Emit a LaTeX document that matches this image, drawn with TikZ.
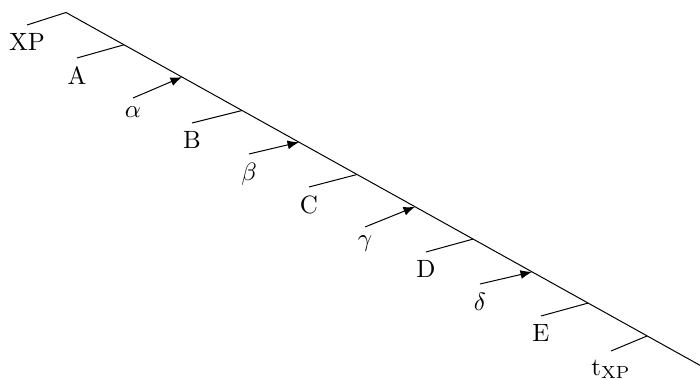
\documentclass[tikz,border=0pt]{standalone}
\usepackage{amsmath}
\usetikzlibrary{arrows.meta,positioning}

\begin{document}
\begin{tikzpicture}[x=0.4pt,y=-0.4pt,
every node/.style={anchor=north,inner sep=0.333em},
spine/.style={line width=0.4pt},
move/.style={line width=0.4pt,-{Latex[length=4.6pt,width=3.6pt]}}]
\useasboundingbox (0,0) rectangle (700,380);
% points on the spine
\coordinate (top) at (66,12.5);
\coordinate (bot) at (712,372);
\coordinate (pA) at (124,44.8);
\coordinate (pB) at (242,110.5);
\coordinate (pC) at (357,174.5);
\coordinate (pD) at (473,239.1);
\coordinate (pE) at (588,303.1);
\coordinate (pT) at (647,336);
\coordinate (qa) at (182,77.1);
\coordinate (qb) at (299,142.2);
\coordinate (qc) at (415,206.8);
\coordinate (qd) at (532,271.9);
% labels
\node (XP) at (27,25) {XP};
\node (A) at (77,58) {A};
\node (B) at (192,123) {B};
\node (C) at (309,187) {C};
\node (D) at (426,252) {D};
\node (E) at (541,316) {E};
\node (T) at (611,351) {t$_{\mathrm{XP}}$};
\node (al) at (133,98) {$\alpha$};
\node (be) at (249,154) {$\beta$};
\node (ga) at (365,227) {$\gamma$};
\node (de) at (480,284) {$\delta$};
% lines
\draw[spine] (XP.north)--(top)--(bot);
\draw[spine] (pA)--(A.north);
\draw[spine] (pB)--(B.north);
\draw[spine] (pC)--(C.north);
\draw[spine] (pD)--(D.north);
\draw[spine] (pE)--(E.north);
\draw[spine] (pT)--(T.north);
\draw[move] (al.north)--(qa);
\draw[move] (be.north)--(qb);
\draw[move] (ga.north)--(qc);
\draw[move] (de.north)--(qd);
\end{tikzpicture}
\end{document}
